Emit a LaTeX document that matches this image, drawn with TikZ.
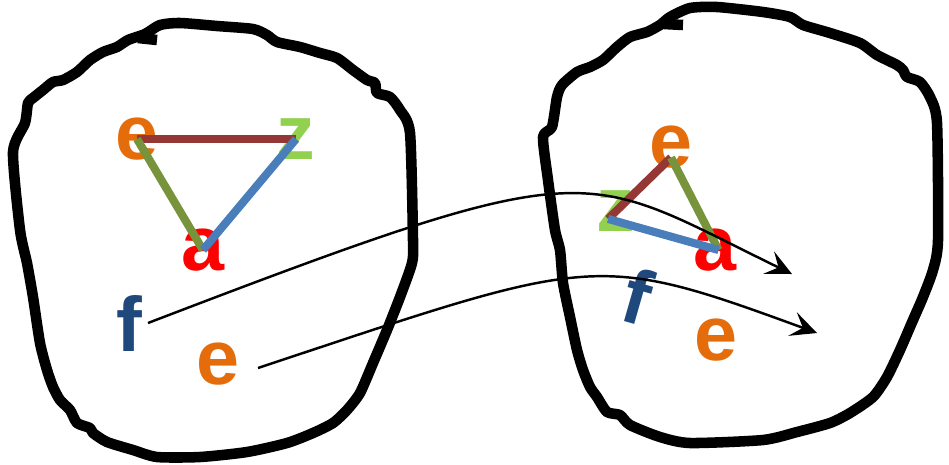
\documentclass[tikz,border=0pt]{standalone}
\usepackage{fontspec}
\setmainfont{Liberation Sans}
\usepackage{xcolor}
\definecolor{LetterOrange}{RGB}{228,108,10}
\definecolor{LetterGreen}{RGB}{146,208,80}
\definecolor{LetterBlue}{RGB}{31,73,125}
\definecolor{EdgeBrown}{RGB}{149,55,53}
\definecolor{EdgeOlive}{RGB}{119,147,60}
\definecolor{EdgeBlue}{RGB}{74,126,187}
\usetikzlibrary{arrows.meta}

\begin{document}
\begin{tikzpicture}[
  x=0.02cm, y=-0.02cm,
  letter/.style={font=\fontsize{44}{48}\selectfont\bfseries, inner sep=0pt},
  blob/.style={line width=6pt, line join=round},
  edge/.style={line width=4.6pt},
  mapping/.style={-{Stealth[length=5.2mm,width=5mm,inset=2.2mm]}, line width=1.4pt}
]
\useasboundingbox (0,0) rectangle (949,464);
\draw[blob] plot[smooth cycle, tension=0.4] coordinates {
  (13,152) (25,123) (28,103) (33,98) (43,90) (53,82) (63,80) (77,72) (90,60)
  (103,52) (117,47) (128,40) (145,34) (160,25) (180,23) (217,26) (253,29)
  (267,35) (277,42) (300,47) (320,53) (337,58) (353,70) (367,80) (375,83)
  (377,93) (390,97) (400,110) (410,133) (413,240) (412,263) (400,297)
  (387,330) (373,363) (360,393) (347,410) (333,423) (313,433) (287,443)
  (247,452) (200,457) (157,457) (133,450) (107,442) (93,433) (90,428)
  (77,423) (70,410) (60,400) (53,387) (47,370) (40,343) (33,297) (27,263)
  (20,230)};
\draw[blob] (138,38) -- (157,40);
\draw[blob] plot[smooth cycle, tension=0.4] coordinates {
  (543,137) (552,127) (557,97) (562,85) (577,72) (590,67) (603,60) (617,47)
  (630,37) (647,32) (660,25) (670,17) (690,8) (717,7) (763,12) (790,17)
  (803,25) (830,33) (860,43) (877,55) (897,65) (903,70) (907,77) (920,82)
  (930,97) (937,123) (938,240) (933,270) (923,297) (913,320) (900,350)
  (887,377) (873,397) (850,413) (830,423) (797,432) (763,440) (690,443)
  (660,437) (630,425) (620,415) (607,412) (597,397) (590,387) (583,370)
  (577,350) (570,317) (563,283) (560,250) (555,230) (548,180)};
\draw[blob] (664,24) -- (683,25);
\node[letter, LetterOrange] (eL) at (137,139) {e};
\node[letter, LetterGreen] (zL) at (296,139) {z};
\node[letter, red] (aL) at (203,250) {a};
\node[letter, LetterBlue] (fL) at (129,323) {f};
\node[letter, LetterOrange] (eL2) at (218,364) {e};
\node[letter, LetterOrange] (eR) at (671,147) {e};
\node[letter, LetterGreen] (zR) at (616,211) {z};
\node[letter, red] (aR) at (715,250) {a};
\node[letter, LetterBlue, rotate=-16] (fR) at (638,296) {f};
\node[letter, LetterOrange] (eR2) at (716,340) {e};
\draw[edge, EdgeBrown] (eL.center) -- (zL.center);
\draw[edge, EdgeOlive] (eL.center) -- (aL.center);
\draw[edge, EdgeBlue] (zL.center) -- (aL.center);
\draw[edge, EdgeBrown] ([yshift=-6pt]eR.center) -- ([xshift=-4.5pt,yshift=-4.5pt]zR.center);
\draw[edge, EdgeOlive] ([yshift=-6pt]eR.center) -- ([xshift=2pt]aR.center);
\draw[edge, EdgeBlue] ([xshift=-4.5pt,yshift=-4.5pt]zR.center) -- ([xshift=2pt]aR.center);
\coordinate (fromF) at (148,323);
\coordinate (toF) at (792,274);
\coordinate (fromE) at (258,368);
\coordinate (toE) at (817,333);
\draw[mapping] (fromF) .. controls (602,149) and (578,170) .. (toF);
\draw[mapping] (fromE) .. controls (595,256) and (593,251) .. (toE);
\end{tikzpicture}
\end{document}
